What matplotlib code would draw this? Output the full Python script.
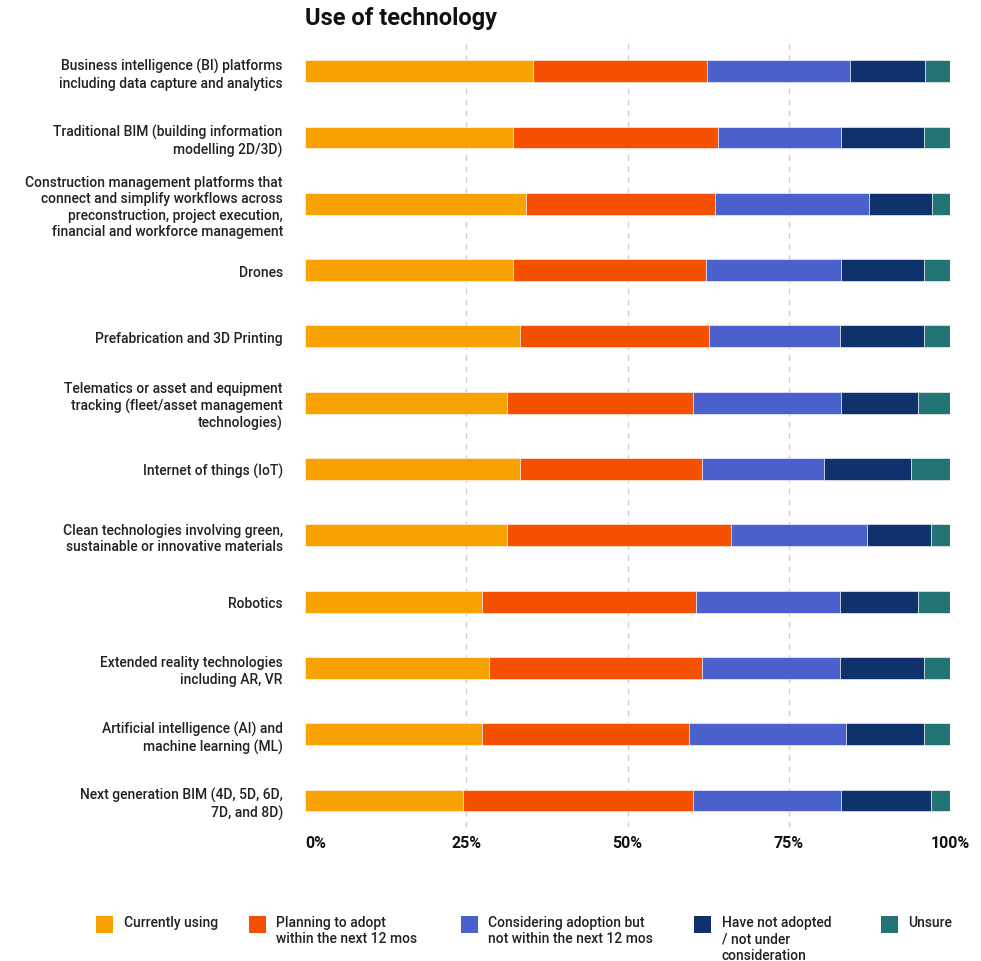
import matplotlib
matplotlib.use("Agg")
import matplotlib.pyplot as plt
from matplotlib.patches import Rectangle
import numpy as np

plt.rcParams['font.family'] = ['Roboto', 'DejaVu Sans']

categories = [
    "Business intelligence (BI) platforms\nincluding data capture and analytics",
    "Traditional BIM (building information\nmodelling 2D/3D)",
    "Construction management platforms that\nconnect and simplify workflows across\npreconstruction, project execution,\nfinancial and workforce management",
    "Drones",
    "Prefabrication and 3D Printing",
    "Telematics or asset and equipment\ntracking (fleet/asset management\ntechnologies)",
    "Internet of things (IoT)",
    "Clean technologies involving green,\nsustainable or innovative materials",
    "Robotics",
    "Extended reality technologies\nincluding AR, VR",
    "Artificial intelligence (AI) and\nmachine learning (ML)",
    "Next generation BIM (4D, 5D, 6D,\n7D, and 8D)",
]

currently_using = [35.3, 32.3, 34.3, 32.3, 33.3, 31.3, 33.3, 31.3, 27.5, 28.5, 27.5, 24.5]
planning_to_adopt = [27.1, 31.8, 29.3, 29.8, 29.3, 28.9, 28.3, 34.8, 33.1, 33.1, 32.0, 35.7]
considering = [22.1, 19.0, 23.9, 21.0, 20.3, 22.9, 18.8, 21.0, 22.3, 21.3, 24.4, 22.9]
not_adopted = [11.7, 12.9, 9.7, 12.9, 13.1, 11.9, 13.6, 9.9, 12.1, 13.1, 12.1, 13.9]
unsure = [3.8, 4.0, 3.0, 4.0, 4.2, 5.0, 6.0, 3.0, 5.0, 4.0, 4.0, 3.0]

series_labels = [
    "Currently using",
    "Planning to adopt\nwithin the next 12 mos",
    "Considering adoption but\nnot within the next 12 mos",
    "Have not adopted\n/ not under\nconsideration",
    "Unsure",
]
colors = ["#F7A200", "#F55000", "#4A60CD", "#0F316C", "#237474"]
xticks = [0, 25, 50, 75, 100]
xtick_labels = ["0%", "25%", "50%", "75%", "100%"]

W, H = 981, 962
fig = plt.figure(figsize=(W / 100, H / 100), dpi=100)
ax_left, ax_right = 305 / W, 950 / W
ax_top, ax_bottom = 1 - 39 / H, 1 - 828 / H
ax = fig.add_axes([ax_left, ax_bottom, ax_right - ax_left, ax_top - ax_bottom])

series = [currently_using, planning_to_adopt, considering, not_adopted, unsure]
y = np.arange(len(categories))
left = np.zeros(len(categories))
for vals, c in zip(series, colors):
    vals = np.array(vals)
    ax.barh(y, vals, left=left, height=0.33, color=c, edgecolor='white', linewidth=0.4, zorder=3)
    left += vals

ax.set_xlim(0, 100)
ax.set_ylim(11.4, -0.5)
for gx in [25, 50, 75]:
    ax.axvline(gx, color='#CFCFCF', linestyle=(0, (4, 4)), linewidth=1.0, zorder=1)

for s in ax.spines.values():
    s.set_visible(False)
ax.set_yticks(y)
ax.set_yticklabels(categories, fontsize=10, fontweight='medium', color='#222222', linespacing=1.22)
ax.tick_params(axis='y', length=0, pad=16)
ax.set_xticks(xticks)
ax.set_xticklabels(xtick_labels, fontsize=11.5, fontweight='bold', color='#111111')
ax.tick_params(axis='x', length=0, pad=6)
ax.get_xticklabels()[0].set_ha('left')
ax.get_xticklabels()[-1].set_ha('center')

fig.text(305 / W, 1 - 18 / H, "Use of technology", fontsize=17, fontweight='bold',
         color='#111111', ha='left', va='center')

# legend
sq_x = [96, 249, 461, 694, 881]
tx_x = [124, 276, 488, 722, 908]
sq = 17
for sx, tx, lab, c in zip(sq_x, tx_x, series_labels, colors):
    fig.add_artist(Rectangle((sx / W, 1 - 934 / H), sq / W, sq / H, transform=fig.transFigure,
                             facecolor=c, edgecolor='none'))
    fig.text(tx / W, 1 - 916 / H, lab, fontsize=10, fontweight='medium', color='#222222',
             ha='left', va='top', linespacing=1.22)

fig.savefig("out.png", dpi=100)
